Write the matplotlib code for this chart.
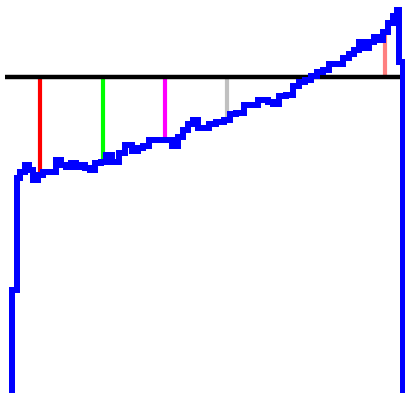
import matplotlib.pyplot as plt

# running level of the series (x = step, y = level)
steps = [12, 12, 17, 17, 22, 27, 31, 35, 40, 46, 53, 58, 63, 68, 73, 78, 83, 87, 92,
         98, 103, 108, 115, 122, 128, 135, 140, 145, 152, 160, 168, 175, 180, 185,
         190, 195, 200, 205, 212, 220, 227, 232, 240, 248, 255, 260, 265, 270, 275,
         282, 290, 296, 302, 308, 313, 320, 325, 332, 340, 346, 351, 357, 361, 366,
         371, 376, 380, 385, 390, 395, 399, 399, 403, 403]
levels = [-10, 103, 103, 215, 221, 228, 223, 213, 218, 221, 221, 233, 228, 226, 230,
          226, 228, 225, 223, 230, 231, 238, 231, 240, 248, 242, 245, 247, 253, 253,
          253, 247, 256, 263, 269, 273, 265, 265, 269, 271, 273, 279, 280, 288, 288,
          293, 293, 291, 289, 297, 298, 307, 311, 313, 317, 321, 323, 329, 329, 335,
          339, 343, 351, 345, 351, 356, 353, 361, 370, 377, 383, 331, 331, -10]

threshold = 316
threshold_span = (5, 403)

# marked steps and the level the series had there
mark_steps = [40, 103, 165, 227, 385]
mark_levels = [221, 231, 255, 274, 358]
mark_colors = ['#ff0000', '#00ff00', '#ff00ff', '#c0c0c0', '#ff8080']

fig = plt.figure(figsize=(4.05, 3.93), dpi=100)
ax = fig.add_axes([0, 0, 1, 1])

ax.hlines(threshold, *threshold_span, color='black', linewidth=3.2, zorder=2)
for s, lv, c in zip(mark_steps, mark_levels, mark_colors):
    ax.vlines(s, min(lv, threshold), max(lv, threshold), color=c, linewidth=3, zorder=1)

ax.plot(steps, levels, color='#0000ff', linewidth=3, antialiased=False,
        drawstyle='steps-mid', solid_joinstyle='miter', zorder=3)

ax.set_xlim(0, 405)
ax.set_ylim(0, 393)
ax.axis('off')

fig.savefig('out.png', dpi=100)
